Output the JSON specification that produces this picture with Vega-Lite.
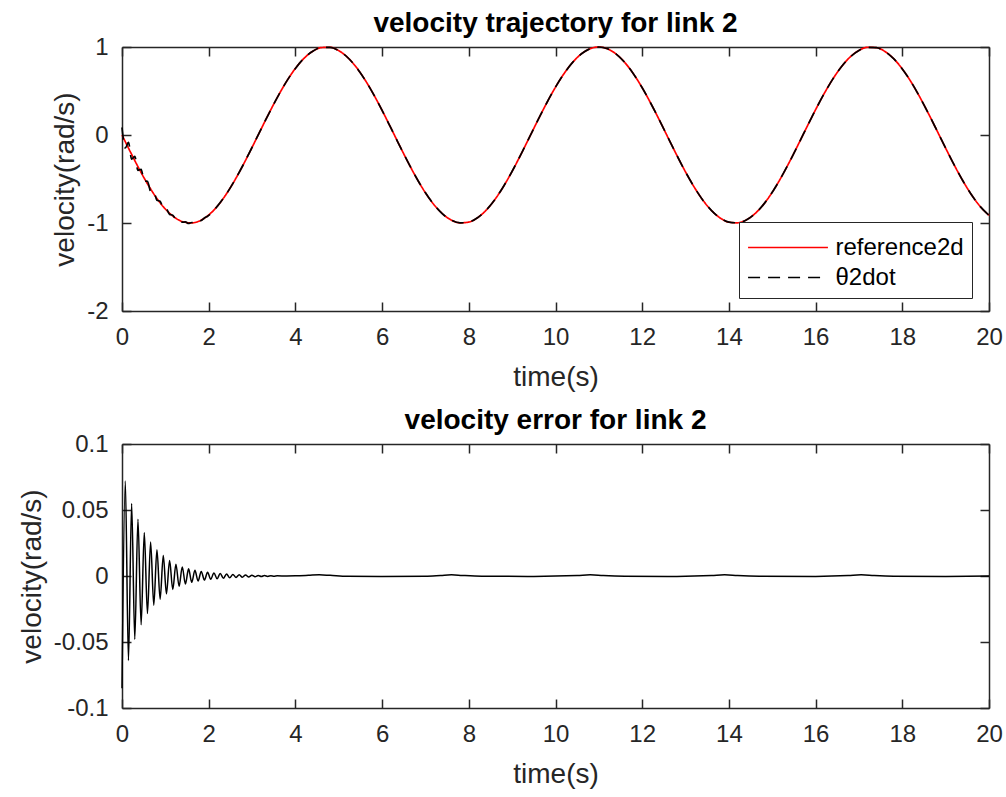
{
  "$schema": "https://vega.github.io/schema/vega-lite/v6.json",
  "padding": {"left": 18, "top": 10, "right": 5, "bottom": 5},
  "background": "white",
  "spacing": 16,
  "config": {
    "font": "Liberation Sans",
    "view": {"stroke": null},
    "axis": {
      "domainColor": "#262626", "domainWidth": 1.5,
      "tickColor": "#262626", "tickWidth": 1.5, "tickSize": -9,
      "labelColor": "#262626", "labelFontSize": 24, "labelPadding": 23, "labelFont": "Liberation Sans", "labelFlush": false,
      "titleColor": "#262626", "titleFontSize": 28, "titleFontWeight": "normal", "titleFont": "Liberation Sans",
      "grid": false
    },
    "axisX": {"titlePadding": 14},
    "axisY": {"titlePadding": 7},
    "title": {"fontSize": 28, "fontWeight": "bold", "color": "#000000", "font": "Liberation Sans", "offset": -3}
  },
  "datasets": {
    "traj": [
      {"t":0,"v":0,"s":"reference2d"},{"t":0.2,"v":-0.19867,"s":"reference2d"},{"t":0.4,"v":-0.38942,"s":"reference2d"},{"t":0.6,"v":-0.56464,"s":"reference2d"},{"t":0.8,"v":-0.71736,"s":"reference2d"},{"t":1.0,"v":-0.84147,"s":"reference2d"},{"t":1.2,"v":-0.93204,"s":"reference2d"},{"t":1.4,"v":-0.98545,"s":"reference2d"},{"t":1.6,"v":-0.99957,"s":"reference2d"},{"t":1.8,"v":-0.97385,"s":"reference2d"},
      {"t":2.0,"v":-0.9093,"s":"reference2d"},{"t":2.2,"v":-0.8085,"s":"reference2d"},{"t":2.4,"v":-0.67546,"s":"reference2d"},{"t":2.6,"v":-0.5155,"s":"reference2d"},{"t":2.8,"v":-0.33499,"s":"reference2d"},{"t":3.0,"v":-0.14112,"s":"reference2d"},{"t":3.2,"v":0.05837,"s":"reference2d"},{"t":3.4,"v":0.25554,"s":"reference2d"},{"t":3.6,"v":0.44252,"s":"reference2d"},{"t":3.8,"v":0.61186,"s":"reference2d"},
      {"t":4.0,"v":0.7568,"s":"reference2d"},{"t":4.2,"v":0.87158,"s":"reference2d"},{"t":4.4,"v":0.9516,"s":"reference2d"},{"t":4.6,"v":0.99369,"s":"reference2d"},{"t":4.8,"v":0.99616,"s":"reference2d"},{"t":5.0,"v":0.95892,"s":"reference2d"},{"t":5.2,"v":0.88345,"s":"reference2d"},{"t":5.4,"v":0.77276,"s":"reference2d"},{"t":5.6,"v":0.63127,"s":"reference2d"},{"t":5.8,"v":0.4646,"s":"reference2d"},
      {"t":6.0,"v":0.27942,"s":"reference2d"},{"t":6.2,"v":0.08309,"s":"reference2d"},{"t":6.4,"v":-0.11655,"s":"reference2d"},{"t":6.6,"v":-0.31154,"s":"reference2d"},{"t":6.8,"v":-0.49411,"s":"reference2d"},{"t":7.0,"v":-0.65699,"s":"reference2d"},{"t":7.2,"v":-0.79367,"s":"reference2d"},{"t":7.4,"v":-0.8987,"s":"reference2d"},{"t":7.6,"v":-0.96792,"s":"reference2d"},{"t":7.8,"v":-0.99854,"s":"reference2d"},
      {"t":8.0,"v":-0.98936,"s":"reference2d"},{"t":8.2,"v":-0.94073,"s":"reference2d"},{"t":8.4,"v":-0.8546,"s":"reference2d"},{"t":8.6,"v":-0.7344,"s":"reference2d"},{"t":8.8,"v":-0.58491,"s":"reference2d"},{"t":9.0,"v":-0.41212,"s":"reference2d"},{"t":9.2,"v":-0.22289,"s":"reference2d"},{"t":9.4,"v":-0.02478,"s":"reference2d"},{"t":9.6,"v":0.17433,"s":"reference2d"},{"t":9.8,"v":0.36648,"s":"reference2d"},
      {"t":10.0,"v":0.54402,"s":"reference2d"},{"t":10.2,"v":0.69987,"s":"reference2d"},{"t":10.4,"v":0.82783,"s":"reference2d"},{"t":10.6,"v":0.92277,"s":"reference2d"},{"t":10.8,"v":0.98094,"s":"reference2d"},{"t":11.0,"v":0.99999,"s":"reference2d"},{"t":11.2,"v":0.97918,"s":"reference2d"},{"t":11.4,"v":0.91933,"s":"reference2d"},{"t":11.6,"v":0.82282,"s":"reference2d"},{"t":11.8,"v":0.69353,"s":"reference2d"},
      {"t":12.0,"v":0.53657,"s":"reference2d"},{"t":12.2,"v":0.35823,"s":"reference2d"},{"t":12.4,"v":0.1656,"s":"reference2d"},{"t":12.6,"v":-0.03362,"s":"reference2d"},{"t":12.8,"v":-0.23151,"s":"reference2d"},{"t":13.0,"v":-0.42017,"s":"reference2d"},{"t":13.2,"v":-0.59207,"s":"reference2d"},{"t":13.4,"v":-0.74037,"s":"reference2d"},{"t":13.6,"v":-0.85916,"s":"reference2d"},{"t":13.8,"v":-0.94369,"s":"reference2d"},
      {"t":14.0,"v":-0.99061,"s":"reference2d"},{"t":14.2,"v":-0.99803,"s":"reference2d"},{"t":14.4,"v":-0.96566,"s":"reference2d"},{"t":14.6,"v":-0.89479,"s":"reference2d"},{"t":14.8,"v":-0.78825,"s":"reference2d"},{"t":15.0,"v":-0.65029,"s":"reference2d"},{"t":15.2,"v":-0.48639,"s":"reference2d"},{"t":15.4,"v":-0.30312,"s":"reference2d"},{"t":15.6,"v":-0.10775,"s":"reference2d"},{"t":15.8,"v":0.09191,"s":"reference2d"},
      {"t":16.0,"v":0.2879,"s":"reference2d"},{"t":16.2,"v":0.47242,"s":"reference2d"},{"t":16.4,"v":0.6381,"s":"reference2d"},{"t":16.6,"v":0.77835,"s":"reference2d"},{"t":16.8,"v":0.88757,"s":"reference2d"},{"t":17.0,"v":0.9614,"s":"reference2d"},{"t":17.2,"v":0.9969,"s":"reference2d"},{"t":17.4,"v":0.99266,"s":"reference2d"},{"t":17.6,"v":0.94885,"s":"reference2d"},{"t":17.8,"v":0.8672,"s":"reference2d"},
      {"t":18.0,"v":0.75099,"s":"reference2d"},{"t":18.2,"v":0.60483,"s":"reference2d"},{"t":18.4,"v":0.43457,"s":"reference2d"},{"t":18.6,"v":0.24698,"s":"reference2d"},{"t":18.8,"v":0.04954,"s":"reference2d"},{"t":19.0,"v":-0.14988,"s":"reference2d"},{"t":19.2,"v":-0.34331,"s":"reference2d"},{"t":19.4,"v":-0.52306,"s":"reference2d"},{"t":19.6,"v":-0.68196,"s":"reference2d"},{"t":19.8,"v":-0.81367,"s":"reference2d"},{"t":20.0,"v":-0.91295,"s":"reference2d"},
      {"t":0,"v":0.085,"s":"θ2dot"},{"t":0.076,"v":-0.1479,"s":"θ2dot"},{"t":0.149,"v":-0.0845,"s":"θ2dot"},{"t":0.222,"v":-0.2752,"s":"θ2dot"},{"t":0.295,"v":-0.2427,"s":"θ2dot"},{"t":0.368,"v":-0.4027,"s":"θ2dot"},{"t":0.441,"v":-0.3898,"s":"θ2dot"},{"t":0.514,"v":-0.5247,"s":"θ2dot"},{"t":0.587,"v":-0.5255,"s":"θ2dot"},{"t":0.66,"v":-0.6388,"s":"θ2dot"},
      {"t":0.733,"v":-0.647,"s":"θ2dot"},{"t":0.806,"v":-0.7413,"s":"θ2dot"},{"t":0.879,"v":-0.7525,"s":"θ2dot"},{"t":0.952,"v":-0.8301,"s":"θ2dot"},{"t":1.025,"v":-0.8412,"s":"θ2dot"},{"t":1.098,"v":-0.9021,"s":"θ2dot"},{"t":1.171,"v":-0.9109,"s":"θ2dot"},{"t":1.244,"v":-0.956,"s":"θ2dot"},{"t":1.317,"v":-0.9602,"s":"θ2dot"},{"t":1.39,"v":-0.9906,"s":"θ2dot"},
      {"t":1.463,"v":-0.9881,"s":"θ2dot"},{"t":1.536,"v":-1.0048,"s":"θ2dot"},{"t":1.609,"v":-0.9945,"s":"θ2dot"},{"t":1.682,"v":-0.9981,"s":"θ2dot"},{"t":1.755,"v":-0.9793,"s":"θ2dot"},{"t":1.828,"v":-0.9705,"s":"θ2dot"},{"t":1.901,"v":-0.9429,"s":"θ2dot"},{"t":1.974,"v":-0.9226,"s":"θ2dot"},
      {"t":2.2,"v":-0.8085,"s":"θ2dot"},{"t":2.4,"v":-0.67546,"s":"θ2dot"},{"t":2.6,"v":-0.5155,"s":"θ2dot"},{"t":2.8,"v":-0.33499,"s":"θ2dot"},{"t":3.0,"v":-0.14112,"s":"θ2dot"},{"t":3.2,"v":0.05837,"s":"θ2dot"},{"t":3.4,"v":0.25554,"s":"θ2dot"},{"t":3.6,"v":0.44252,"s":"θ2dot"},{"t":3.8,"v":0.61186,"s":"θ2dot"},
      {"t":4.0,"v":0.7568,"s":"θ2dot"},{"t":4.2,"v":0.87158,"s":"θ2dot"},{"t":4.4,"v":0.9516,"s":"θ2dot"},{"t":4.6,"v":0.99369,"s":"θ2dot"},{"t":4.8,"v":0.99616,"s":"θ2dot"},{"t":5.0,"v":0.95892,"s":"θ2dot"},{"t":5.2,"v":0.88345,"s":"θ2dot"},{"t":5.4,"v":0.77276,"s":"θ2dot"},{"t":5.6,"v":0.63127,"s":"θ2dot"},{"t":5.8,"v":0.4646,"s":"θ2dot"},
      {"t":6.0,"v":0.27942,"s":"θ2dot"},{"t":6.2,"v":0.08309,"s":"θ2dot"},{"t":6.4,"v":-0.11655,"s":"θ2dot"},{"t":6.6,"v":-0.31154,"s":"θ2dot"},{"t":6.8,"v":-0.49411,"s":"θ2dot"},{"t":7.0,"v":-0.65699,"s":"θ2dot"},{"t":7.2,"v":-0.79367,"s":"θ2dot"},{"t":7.4,"v":-0.8987,"s":"θ2dot"},{"t":7.6,"v":-0.96792,"s":"θ2dot"},{"t":7.8,"v":-0.99854,"s":"θ2dot"},
      {"t":8.0,"v":-0.98936,"s":"θ2dot"},{"t":8.2,"v":-0.94073,"s":"θ2dot"},{"t":8.4,"v":-0.8546,"s":"θ2dot"},{"t":8.6,"v":-0.7344,"s":"θ2dot"},{"t":8.8,"v":-0.58491,"s":"θ2dot"},{"t":9.0,"v":-0.41212,"s":"θ2dot"},{"t":9.2,"v":-0.22289,"s":"θ2dot"},{"t":9.4,"v":-0.02478,"s":"θ2dot"},{"t":9.6,"v":0.17433,"s":"θ2dot"},{"t":9.8,"v":0.36648,"s":"θ2dot"},
      {"t":10.0,"v":0.54402,"s":"θ2dot"},{"t":10.2,"v":0.69987,"s":"θ2dot"},{"t":10.4,"v":0.82783,"s":"θ2dot"},{"t":10.6,"v":0.92277,"s":"θ2dot"},{"t":10.8,"v":0.98094,"s":"θ2dot"},{"t":11.0,"v":0.99999,"s":"θ2dot"},{"t":11.2,"v":0.97918,"s":"θ2dot"},{"t":11.4,"v":0.91933,"s":"θ2dot"},{"t":11.6,"v":0.82282,"s":"θ2dot"},{"t":11.8,"v":0.69353,"s":"θ2dot"},
      {"t":12.0,"v":0.53657,"s":"θ2dot"},{"t":12.2,"v":0.35823,"s":"θ2dot"},{"t":12.4,"v":0.1656,"s":"θ2dot"},{"t":12.6,"v":-0.03362,"s":"θ2dot"},{"t":12.8,"v":-0.23151,"s":"θ2dot"},{"t":13.0,"v":-0.42017,"s":"θ2dot"},{"t":13.2,"v":-0.59207,"s":"θ2dot"},{"t":13.4,"v":-0.74037,"s":"θ2dot"},{"t":13.6,"v":-0.85916,"s":"θ2dot"},{"t":13.8,"v":-0.94369,"s":"θ2dot"},
      {"t":14.0,"v":-0.99061,"s":"θ2dot"},{"t":14.2,"v":-0.99803,"s":"θ2dot"},{"t":14.4,"v":-0.96566,"s":"θ2dot"},{"t":14.6,"v":-0.89479,"s":"θ2dot"},{"t":14.8,"v":-0.78825,"s":"θ2dot"},{"t":15.0,"v":-0.65029,"s":"θ2dot"},{"t":15.2,"v":-0.48639,"s":"θ2dot"},{"t":15.4,"v":-0.30312,"s":"θ2dot"},{"t":15.6,"v":-0.10775,"s":"θ2dot"},{"t":15.8,"v":0.09191,"s":"θ2dot"},
      {"t":16.0,"v":0.2879,"s":"θ2dot"},{"t":16.2,"v":0.47242,"s":"θ2dot"},{"t":16.4,"v":0.6381,"s":"θ2dot"},{"t":16.6,"v":0.77835,"s":"θ2dot"},{"t":16.8,"v":0.88757,"s":"θ2dot"},{"t":17.0,"v":0.9614,"s":"θ2dot"},{"t":17.2,"v":0.9969,"s":"θ2dot"},{"t":17.4,"v":0.99266,"s":"θ2dot"},{"t":17.6,"v":0.94885,"s":"θ2dot"},{"t":17.8,"v":0.8672,"s":"θ2dot"},
      {"t":18.0,"v":0.75099,"s":"θ2dot"},{"t":18.2,"v":0.60483,"s":"θ2dot"},{"t":18.4,"v":0.43457,"s":"θ2dot"},{"t":18.6,"v":0.24698,"s":"θ2dot"},{"t":18.8,"v":0.04954,"s":"θ2dot"},{"t":19.0,"v":-0.14988,"s":"θ2dot"},{"t":19.2,"v":-0.34331,"s":"θ2dot"},{"t":19.4,"v":-0.52306,"s":"θ2dot"},{"t":19.6,"v":-0.68196,"s":"θ2dot"},{"t":19.8,"v":-0.81367,"s":"θ2dot"},{"t":20.0,"v":-0.91295,"s":"θ2dot"}
    ],
    "err": [
      {"t":0,"e":-0.085},{"t":0.076,"e":0.072},{"t":0.149,"e":-0.064},{"t":0.222,"e":0.055},{"t":0.295,"e":-0.048},{"t":0.368,"e":0.043},{"t":0.441,"e":-0.037},{"t":0.514,"e":0.033},{"t":0.587,"e":-0.0285},{"t":0.66,"e":0.0257},
      {"t":0.733,"e":-0.0221},{"t":0.806,"e":0.0198},{"t":0.879,"e":-0.0176},{"t":0.952,"e":0.0155},{"t":1.025,"e":-0.0135},{"t":1.098,"e":0.0118},{"t":1.171,"e":-0.0102},{"t":1.244,"e":0.0089},{"t":1.317,"e":-0.0078},{"t":1.39,"e":0.0069},
      {"t":1.463,"e":-0.0061},{"t":1.536,"e":0.0054},{"t":1.609,"e":-0.0048},{"t":1.682,"e":0.0043},{"t":1.755,"e":-0.0038},{"t":1.828,"e":0.0034},{"t":1.901,"e":-0.0031},{"t":1.974,"e":0.0028},{"t":2.047,"e":-0.0025},{"t":2.12,"e":0.0023},
      {"t":2.193,"e":-0.0021},{"t":2.266,"e":0.0019},{"t":2.339,"e":-0.0017},{"t":2.412,"e":0.0015},{"t":2.485,"e":-0.0014},{"t":2.558,"e":0.0012},{"t":2.631,"e":-0.0011},{"t":2.704,"e":0.001},{"t":2.777,"e":-0.0009},{"t":2.85,"e":0.0008},
      {"t":2.923,"e":-0.0007},{"t":2.996,"e":0.0006},{"t":3.069,"e":-0.0005},{"t":3.142,"e":0.00045},{"t":3.215,"e":-0.0004},{"t":3.288,"e":0.00035},{"t":3.361,"e":-0.0003},{"t":3.434,"e":0.00025},{"t":3.507,"e":-0.0002},{"t":3.58,"e":0.00015},
      {"t":3.8,"e":0.0},{"t":4.0,"e":0.0001},{"t":4.3,"e":0.0005},{"t":4.55,"e":0.0009},{"t":4.8,"e":0.0005},{"t":5.2,"e":-0.0002},{"t":6.0,"e":-0.0003},{"t":7.0,"e":-0.0002},{"t":7.35,"e":0.0004},{"t":7.6,"e":0.0009},
      {"t":7.85,"e":0.0004},{"t":8.3,"e":-0.0002},{"t":9.5,"e":-0.0003},{"t":10.5,"e":0.0003},{"t":10.8,"e":0.0009},{"t":11.1,"e":0.0003},{"t":11.6,"e":-0.0002},{"t":12.8,"e":-0.0003},{"t":13.6,"e":0.0003},{"t":13.9,"e":0.0009},
      {"t":14.2,"e":0.0003},{"t":14.7,"e":-0.0002},{"t":16.0,"e":-0.0003},{"t":16.75,"e":0.0003},{"t":17.05,"e":0.0009},{"t":17.35,"e":0.0003},{"t":17.8,"e":-0.0002},{"t":19.0,"e":-0.0003},{"t":20.0,"e":0.0}
    ]
  },
  "vconcat": [
    {
      "title": "velocity trajectory for link 2",
      "width": 867,
      "height": 264,
      "data": {"name": "traj"},
      "layer": [
        {
          "mark": {"type": "line", "strokeWidth": 1.7, "interpolate": "monotone"},
          "encoding": {
            "x": {"field": "t", "type": "quantitative", "scale": {"domain": [0, 20], "nice": false},
                  "axis": {"values": [0,2,4,6,8,10,12,14,16,18,20], "title": "time(s)", "format": "~g"}},
            "y": {"field": "v", "type": "quantitative", "scale": {"domain": [-2, 1], "nice": false},
                  "axis": {"values": [-2,-1,0,1], "title": "velocity(rad/s)", "format": "~g", "labelExpr": "replace(datum.label, '−', '-')"}},
            "color": {"field": "s", "type": "nominal",
                      "scale": {"domain": ["reference2d", "θ2dot"], "range": ["#ff0000", "#000000"]},
                      "legend": {"title": null, "orient": "none", "legendX": 617, "legendY": 175,
                                 "symbolType": "M-2.42,0L2.42,0", "symbolSize": 1089, "symbolStrokeWidth": 1.5, "symbolOffset": 23.5,
                                 "labelOffset": 30, "labelFontSize": 24, "labelFont": "Liberation Sans", "labelColor": "#000000",
                                 "strokeColor": "#262626", "fillColor": "white", "padding": 8, "rowPadding": 0, "cornerRadius": 0}},
            "strokeDash": {"field": "s", "type": "nominal",
                      "scale": {"domain": ["reference2d", "θ2dot"], "range": [[1, 0], [12, 8]]},
                      "legend": {"title": null, "orient": "none", "legendX": 617, "legendY": 175,
                                 "symbolType": "M-2.42,0L2.42,0", "symbolSize": 1089, "symbolStrokeWidth": 1.5, "symbolOffset": 23.5,
                                 "labelOffset": 30, "labelFontSize": 24, "labelFont": "Liberation Sans", "labelColor": "#000000",
                                 "strokeColor": "#262626", "fillColor": "white", "padding": 8, "rowPadding": 0, "cornerRadius": 0}}
          }
        },
        {
          "mark": {"type": "line", "opacity": 0},
          "encoding": {
            "x": {"field": "t", "type": "quantitative", "scale": {"domain": [0, 20], "nice": false},
                  "axis": {"orient": "top", "values": [0,2,4,6,8,10,12,14,16,18,20], "labels": false, "title": null}},
            "y": {"field": "v", "type": "quantitative", "scale": {"domain": [-2, 1], "nice": false},
                  "axis": {"orient": "right", "values": [-2,-1,0,1], "labels": false, "title": null}}
          }
        }
      ],
      "resolve": {"axis": {"x": "independent", "y": "independent"}}
    },
    {
      "title": "velocity error for link 2",
      "width": 867,
      "height": 264,
      "data": {"name": "err"},
      "layer": [
        {
          "mark": {"type": "line", "color": "#000000", "strokeWidth": 1.5, "interpolate": "monotone"},
          "encoding": {
            "x": {"field": "t", "type": "quantitative", "scale": {"domain": [0, 20], "nice": false},
                  "axis": {"values": [0,2,4,6,8,10,12,14,16,18,20], "title": "time(s)", "format": "~g"}},
            "y": {"field": "e", "type": "quantitative", "scale": {"domain": [-0.1, 0.1], "nice": false},
                  "axis": {"values": [-0.1,-0.05,0,0.05,0.1], "title": "velocity(rad/s)", "format": "~g", "labelExpr": "replace(datum.label, '−', '-')"}}
          }
        },
        {
          "mark": {"type": "line", "opacity": 0},
          "encoding": {
            "x": {"field": "t", "type": "quantitative", "scale": {"domain": [0, 20], "nice": false},
                  "axis": {"orient": "top", "values": [0,2,4,6,8,10,12,14,16,18,20], "labels": false, "title": null}},
            "y": {"field": "e", "type": "quantitative", "scale": {"domain": [-0.1, 0.1], "nice": false},
                  "axis": {"orient": "right", "values": [-0.1,-0.05,0,0.05,0.1], "labels": false, "title": null}}
          }
        }
      ],
      "resolve": {"axis": {"x": "independent", "y": "independent"}}
    }
  ]
}
